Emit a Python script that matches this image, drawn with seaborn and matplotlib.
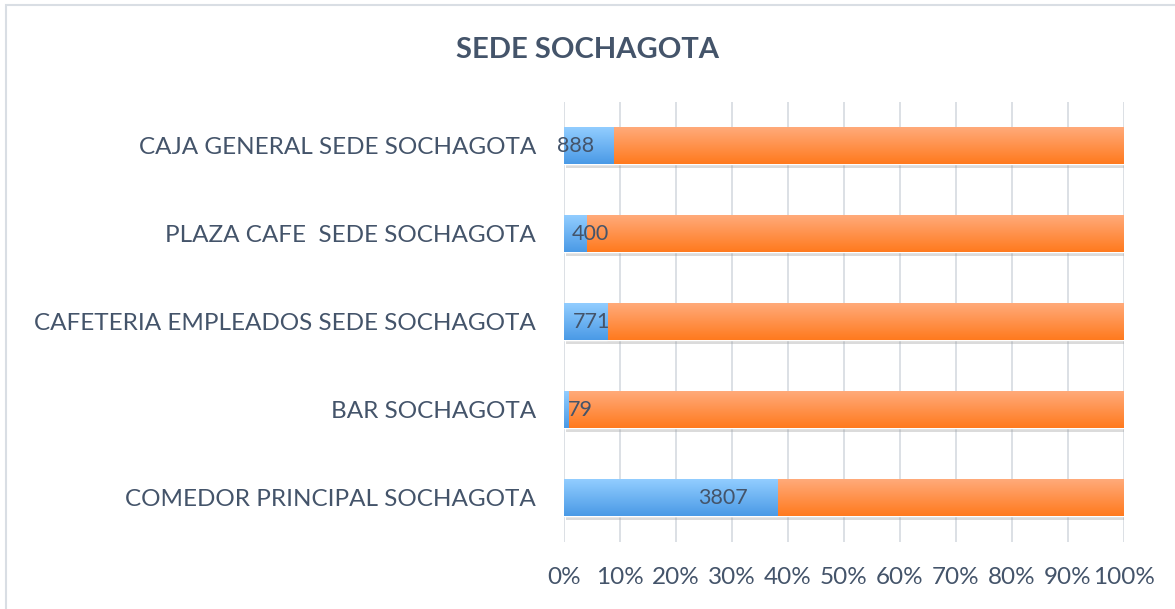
import numpy as np
import pandas as pd
import seaborn as sns
import matplotlib.pyplot as plt
import matplotlib.patheffects as pe
from matplotlib.colors import LinearSegmentedColormap
from matplotlib.patches import Rectangle

# Data
categories = [
    "CAJA GENERAL SEDE SOCHAGOTA",
    "PLAZA CAFE  SEDE SOCHAGOTA",
    "CAFETERIA EMPLEADOS SEDE SOCHAGOTA",
    "BAR SOCHAGOTA",
    "COMEDOR PRINCIPAL SOCHAGOTA",
]
served = [888, 400, 771, 79, 3807]
remaining = [9112, 9600, 9229, 9921, 6193]
# where Excel put the value labels (percent of the bar)
label_pos = [2.0, 4.7, 5.0, 2.9, 28.4]

df = pd.DataFrame({"cat": categories, "served": served, "remaining": remaining})
total = df["served"] + df["remaining"]
df["pct_served"] = df["served"] / total * 100
df["pct_total"] = 100.0

text_color = "#44546A"
sns.set_theme(style="white")
plt.rcParams["font.family"] = ["Lato", "DejaVu Sans"]

dpi = 100
fig = plt.figure(figsize=(1175 / dpi, 609 / dpi), dpi=dpi)
ax = fig.add_axes([564 / 1175, 1 - 542 / 609, 560 / 1175, 440 / 609])

# full bar (orange) then blue share on top
sns.barplot(data=df, y="cat", x="pct_total", color="#FF8A3D", width=0.41,
            orient="h", ax=ax, saturation=1)
sns.barplot(data=df, y="cat", x="pct_served", color="#6AB4F5", width=0.41,
            orient="h", ax=ax, saturation=1)

blue_cmap = LinearSegmentedColormap.from_list("b", ["#4A9AE6", "#92CDFF"])
orange_cmap = LinearSegmentedColormap.from_list("o", ["#FF7A1E", "#FFAA7A"])
grad = np.linspace(0, 1, 64).reshape(-1, 1)

n = len(df)
for i, patch in enumerate(ax.patches):
    x0, y0 = patch.get_x(), patch.get_y()
    w, h = patch.get_width(), patch.get_height()
    cmap = orange_cmap if i < n else blue_cmap
    if i < n:
        patch.set_path_effects([pe.SimplePatchShadow(offset=(1.5, -3), shadow_rgbFace="#9a9a9a", alpha=0.35),
                                pe.Normal()])
    # gradient: light at top, darker at bottom (y axis inverted)
    ax.imshow(grad[::-1], cmap=cmap, aspect="auto", extent=[x0, x0 + w, y0 + h, y0],
              zorder=patch.get_zorder() + 0.1 + (0.1 if i >= n else 0), interpolation="bicubic")

ax.set_xlim(0, 100)
ax.set_ylim(n - 0.5, -0.5)
ax.set_xticks(np.arange(0, 101, 10))
ax.set_xticklabels([f"{t}%" for t in range(0, 101, 10)])
ax.grid(axis="x", color="#D9DDE3", linewidth=1.3)
ax.set_axisbelow(True)
for s in ax.spines.values():
    s.set_visible(False)
ax.tick_params(axis="both", length=0, labelsize=17.5, colors=text_color)
ax.tick_params(axis="y", pad=20)
ax.tick_params(axis="x", pad=18)
ax.set_xlabel("")
ax.set_ylabel("")

for i, v in enumerate(df["served"]):
    ax.text(label_pos[i], i, f"{v}", ha="center", va="center", fontsize=15.5,
            color=text_color, zorder=10)

fig.text(0.5, 1 - 50 / 609, "SEDE SOCHAGOTA", ha="center", va="center",
         fontsize=21, fontweight="bold", color=text_color)

# chart border (cut at right and bottom like the screenshot)
fig.patches.append(Rectangle((6 / 1175, -0.1), 1.2, 1 - 5 / 609 + 0.1,
                             transform=fig.transFigure, fill=False,
                             edgecolor="#D9DEE4", linewidth=1.5))

fig.savefig("out.png", dpi=dpi)
